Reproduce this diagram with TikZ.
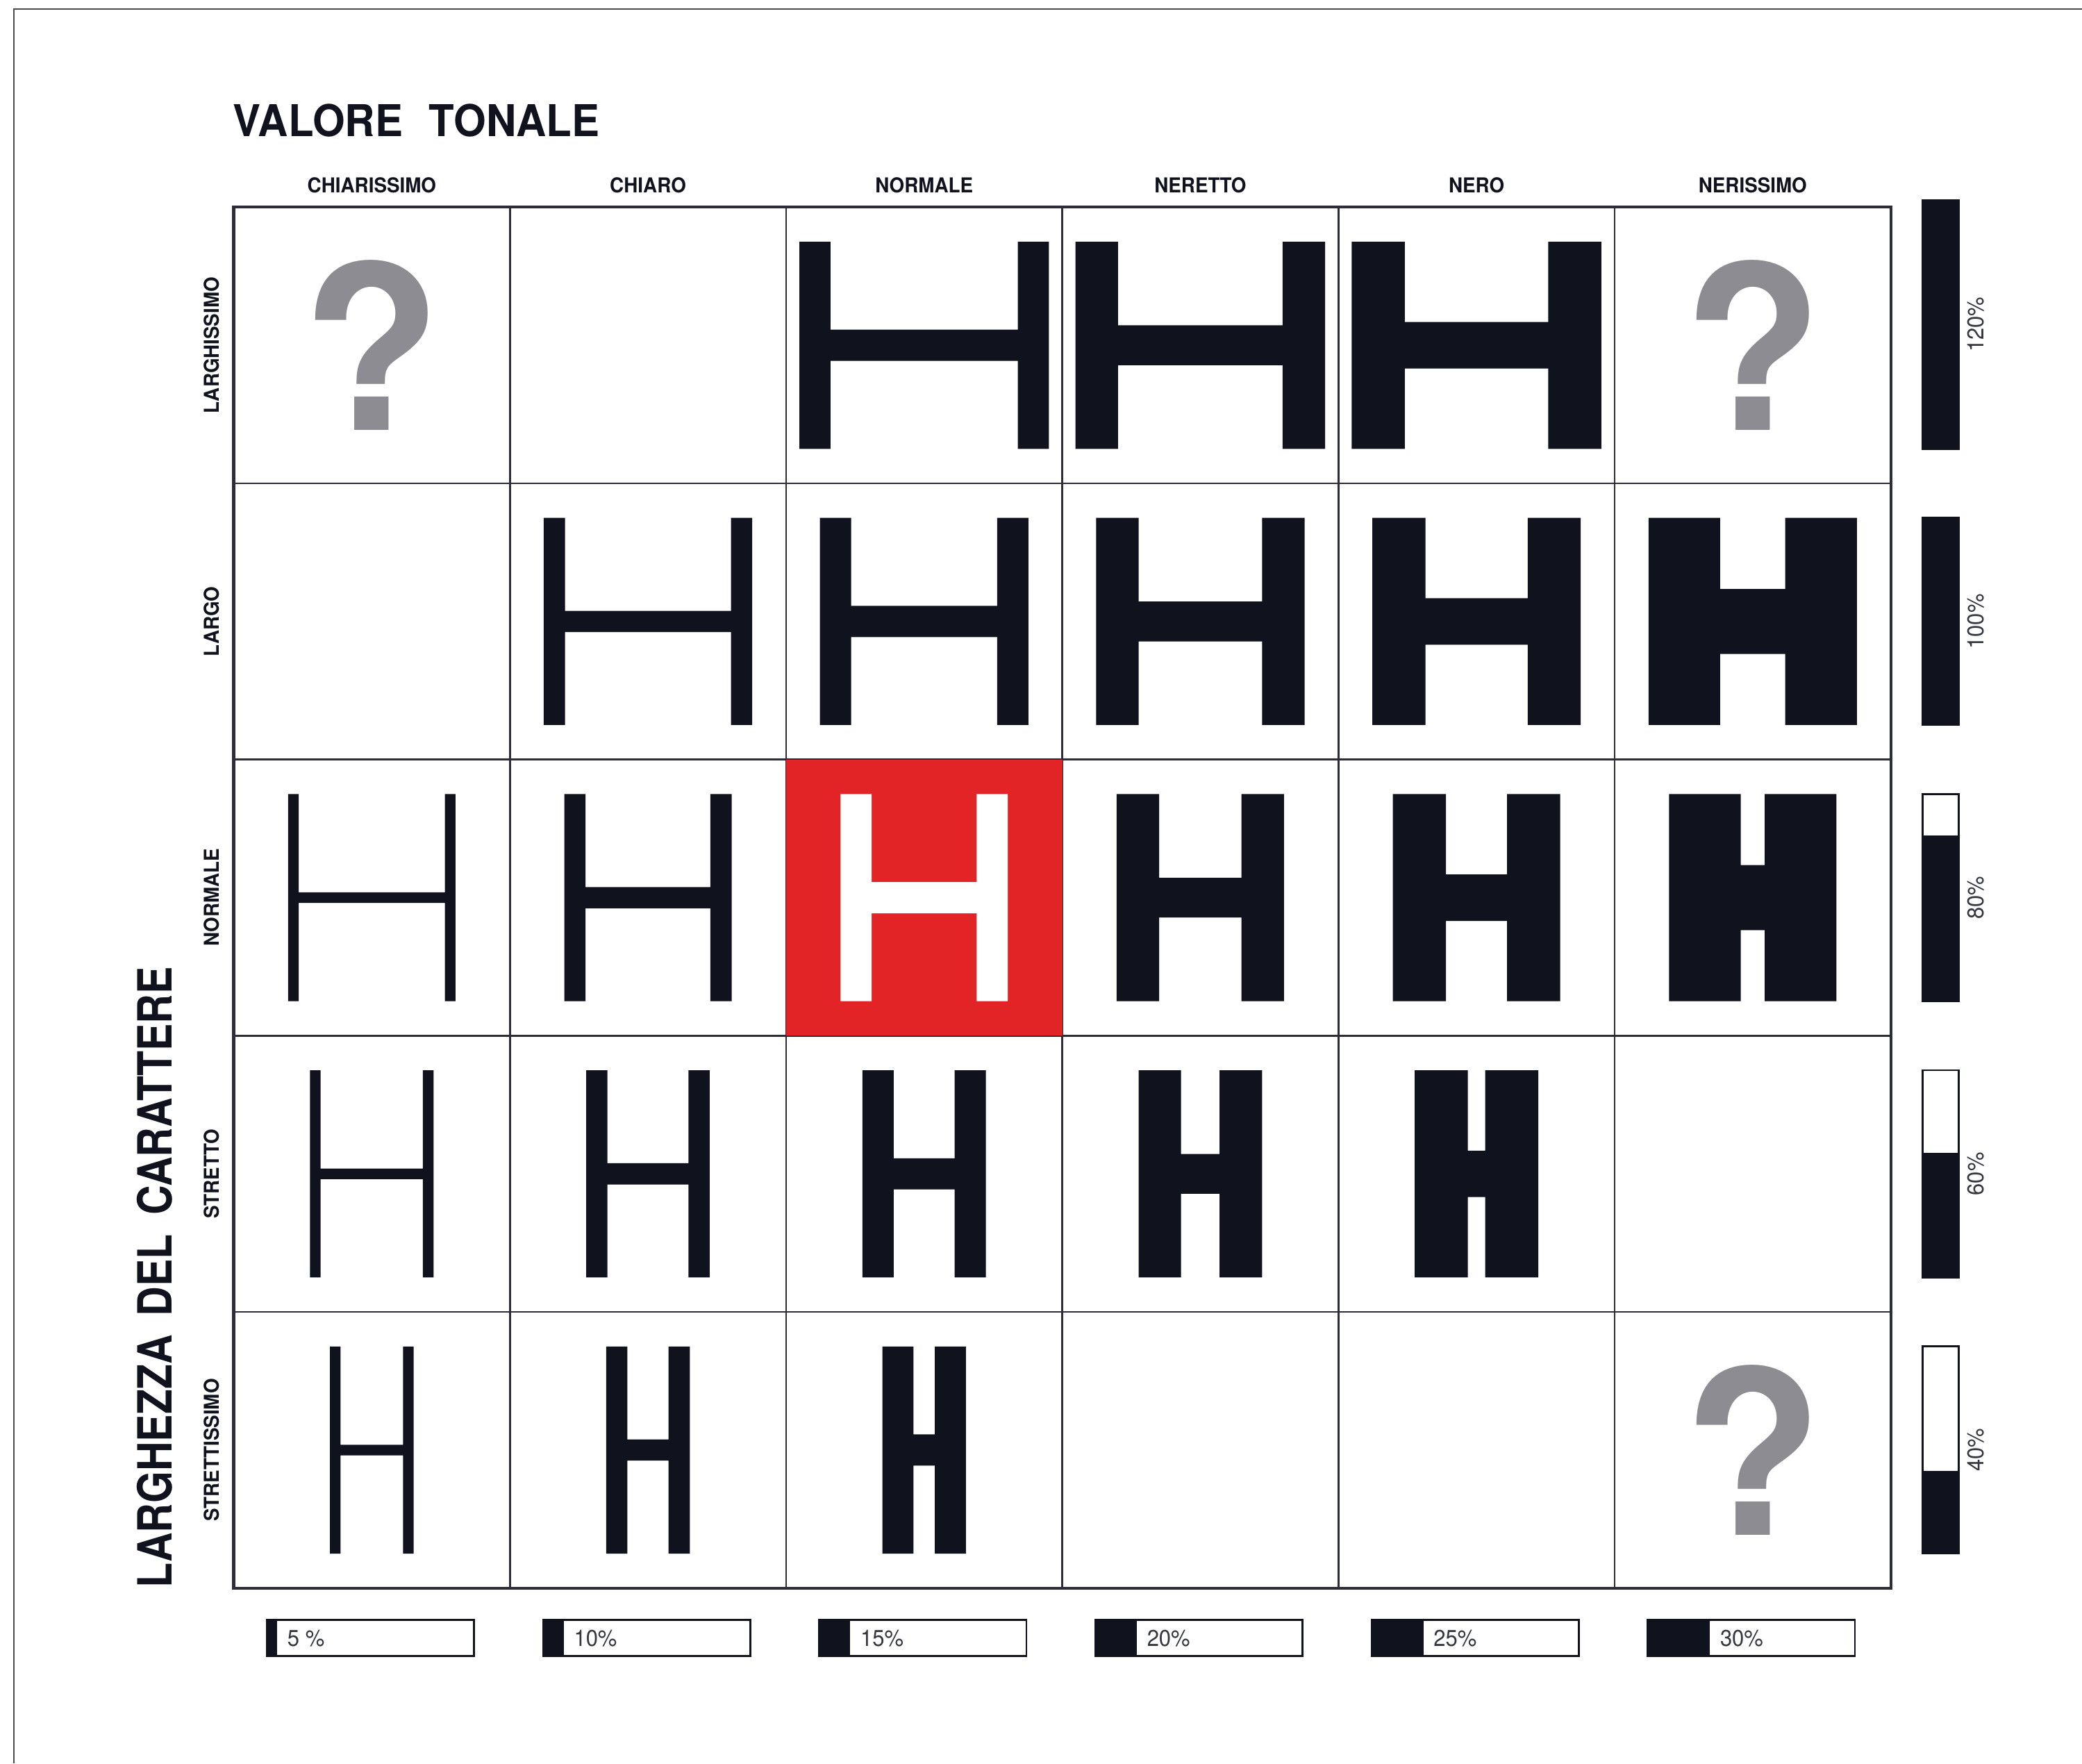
\documentclass[tikz,border=0pt]{standalone}
\usepackage{fontspec}
\setmainfont{TeX Gyre Heros}
\newfontfamily\narrowfont[FakeStretch=0.87]{TeX Gyre Heros}
\newfontfamily\titlefont[FakeStretch=0.95]{TeX Gyre Heros}
\newfontfamily\labelfont[FakeStretch=0.94]{TeX Gyre Heros}
\definecolor{inkblack}{RGB}{16,18,30}
\definecolor{cellred}{RGB}{226,36,38}
\definecolor{querygray}{RGB}{140,140,146}
\definecolor{gridgray}{RGB}{45,45,55}
\newcommand\Hmark[3]{%
  \pgfmathsetmacro\Hwd{{188,157,126,93,63}[#1-1]}%
  \pgfmathsetmacro\Hstem{{8,16,23.5,32,40,54}[#2-1]}%
  \pgfmathsetmacro\Hcross{{8,16,23.5,30,35,49}[#2-1]}%
  \fill[#3,shift={({gx+cw*(#2-.5)},{gy+cw*(#1-.5)})}]
    (-\Hwd/2,-78) rectangle (-\Hwd/2+\Hstem,78)
    (\Hwd/2-\Hstem,-78) rectangle (\Hwd/2,78)
    (-\Hwd/2,-\Hcross/2) rectangle (\Hwd/2,\Hcross/2);}
\begin{document}
\begin{tikzpicture}[x=.1mm,y=-.1mm,declare function={cw=208;gx=176;gy=156;},
	every node/.style={inner sep=0pt},
	head/.style={font=\labelfont\bfseries\fontsize{4.4}{5}\selectfont,text=inkblack,anchor=base},
	side/.style={head,rotate=90},
	pct/.style={font=\labelfont\fontsize{4.9}{6}\selectfont,text=inkblack!85},
	query/.style={font=\bfseries\fontsize{49}{50}\selectfont,text=querygray}]
	\useasboundingbox (0,0) rectangle (1568,1328);
	\draw[gray!60!black,line width=.3pt] (1568,6.6)--(10.7,6.6)--(10.7,1328);
	\node[font=\titlefont\bfseries\fontsize{9.4}{11}\selectfont,text=inkblack,anchor=base west] (title) at (175,103) {VALORE\hspace{.6em}TONALE};
	\node[font=\narrowfont\bfseries\fontsize{10.1}{12}\selectfont,text=inkblack,rotate=90,anchor=base] (axis) at (129.5,962) {LARGHEZZA\hspace{.4em}DEL\hspace{.4em}CARATTERE};
	\foreach \c/\g in {1/CHIARISSIMO,2/CHIARO,3/NORMALE,4/NERETTO,5/NERO,6/NERISSIMO}
		\node[head] (col-\c) at ({gx+cw*(\c-.5)},145) {\g};
	\foreach \r/\g in {1/LARGHISSIMO,2/LARGO,3/NORMALE,4/STRETTO,5/STRETTISSIMO}
		\node[side] (row-\r) at (165,{gy+cw*(\r-.5)}) {\g};
	\foreach \i in {1,...,5} \draw[gridgray,line width=.4pt] ({gx+cw*\i},gy)--({gx+cw*\i},{gy+5*cw});
	\foreach \i in {1,...,4} \draw[gridgray,line width=.4pt] (gx,{gy+cw*\i})--({gx+6*cw},{gy+cw*\i});
	\draw[gridgray,line width=.6pt] (gx,gy) rectangle ({gx+6*cw},{gy+5*cw});
	\fill[cellred] ({gx+2*cw},{gy+2*cw}) rectangle ({gx+3*cw},{gy+3*cw});
	\foreach \r/\c in {1/3,1/4,1/5,2/2,2/3,2/4,2/5,2/6,3/1,3/2,3/4,3/5,3/6,4/1,4/2,4/3,4/4,4/5,5/1,5/2,5/3}
		\Hmark{\r}{\c}{inkblack};
	\Hmark{3}{3}{white};
	\foreach \r/\c in {1/1,1/6,5/6}
		\node[query] (query-\r-\c) at ({gx+cw*(\c-.5)},{gy+cw*(\r-.5)}) {?};
	\foreach \r/\p/\g in {1/1.2/120,2/1/100,3/.8/80,4/.6/60,5/.4/40}{
		\draw[inkblack,line width=.4pt] (1448,{gy+cw*\r-26}) rectangle (1475,{gy+cw*\r-26-156*max(\p,1)});
		\fill[inkblack] (1448,{gy+cw*\r-26}) rectangle (1475,{gy+cw*\r-26-156*\p});
		\node[pct,rotate=90,anchor=base] (width-\r) at (1494,{gy+cw*\r-26-78*max(\p,1)}) {\g\%};
	}
	\foreach \c/\p/\g in {1/.05/5 \%,2/.1/10\%,3/.15/15\%,4/.2/20\%,5/.25/25\%,6/.3/30\%}{
		\draw[inkblack,line width=.4pt] ({gx+cw*(\c-1)+25},1220) rectangle ({gx+cw*(\c-1)+181},1247);
		\fill[inkblack] ({gx+cw*(\c-1)+25},1220) rectangle ({gx+cw*(\c-1)+25+156*\p},1247);
		\node[pct,anchor=base west] (stem-\c) at ({gx+cw*(\c-1)+32+156*\p},1240) {\g};
	}
\end{tikzpicture}
\end{document}
